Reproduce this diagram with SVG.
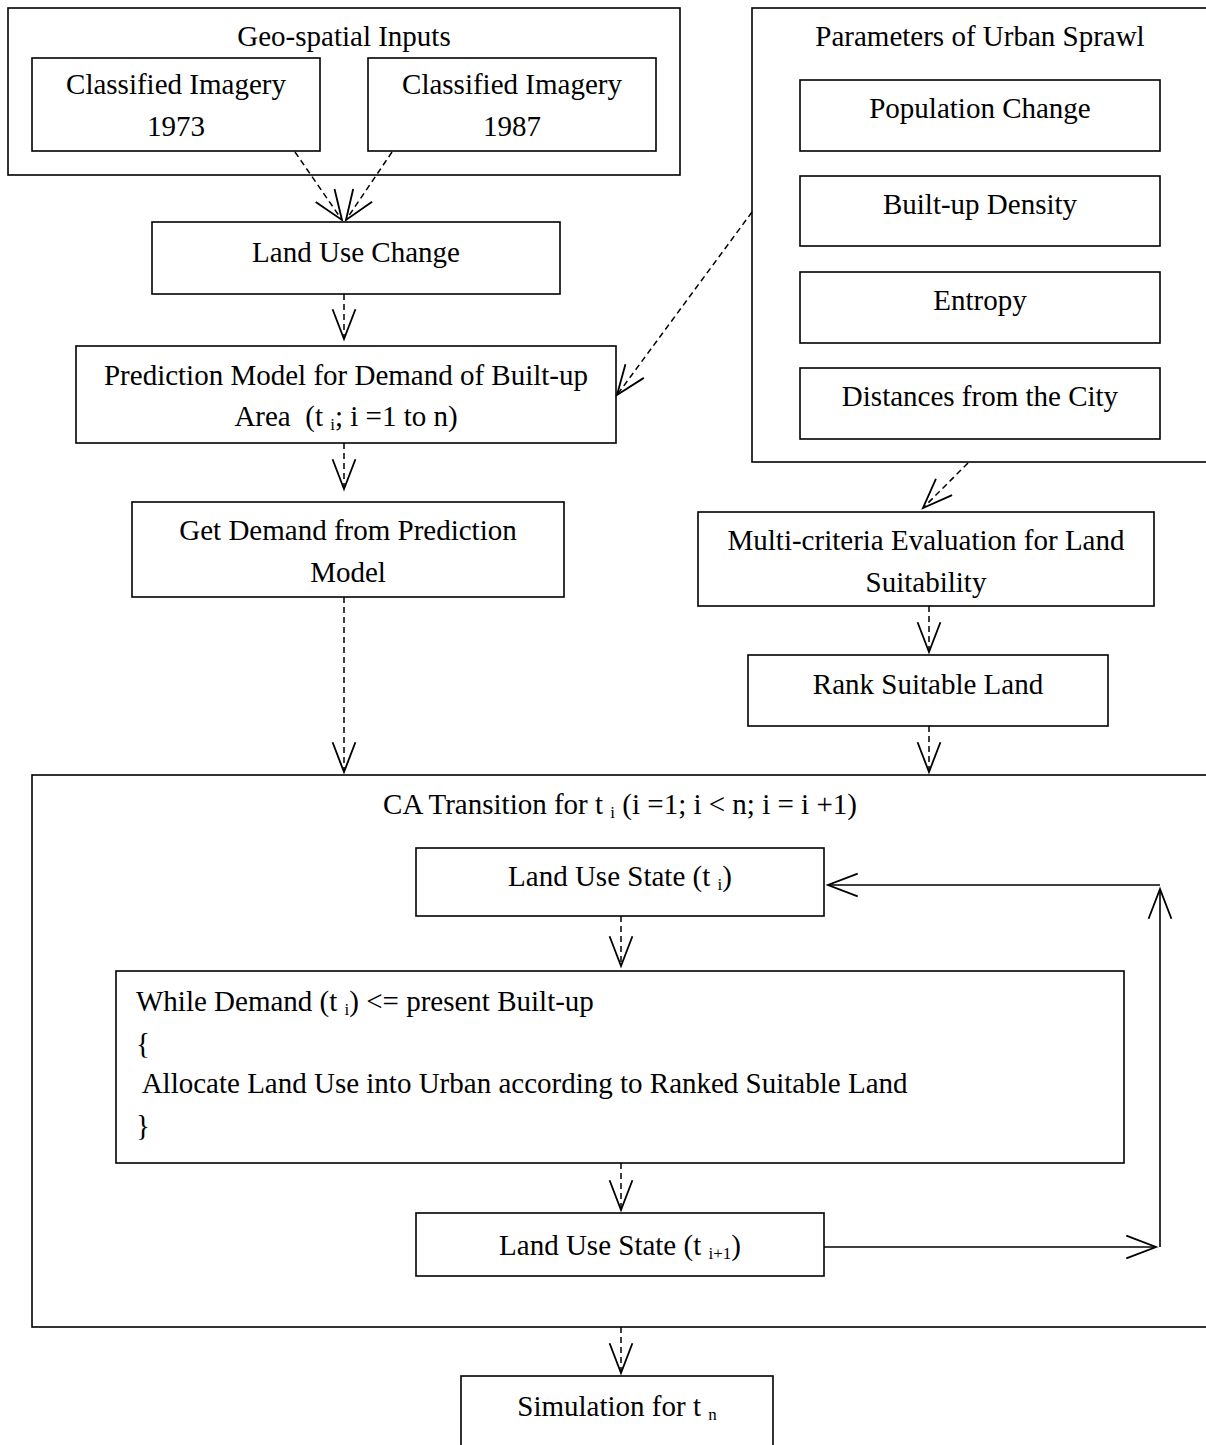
<svg xmlns="http://www.w3.org/2000/svg" width="1206" height="1445" viewBox="0 0 1206 1445">
<style>
.b{fill:none;stroke:#000;stroke-width:1.6}
.t{font-family:"Liberation Serif","Times New Roman",serif;font-size:29px;fill:#000;text-anchor:middle;white-space:pre}
.l{text-anchor:start}
.s{font-size:17px}
.d{fill:none;stroke:#000;stroke-width:1.5;stroke-dasharray:6 4;marker-end:url(#v)}
.c{fill:none;stroke:#000;stroke-width:1.6;marker-end:url(#v)}
</style>
<defs>
<marker id="v" markerUnits="userSpaceOnUse" markerWidth="40" markerHeight="40" viewBox="-30 -15 35 30" refX="0" refY="0" orient="auto" overflow="visible">
<path d="M-26,-10 L0,0 L-26,10" fill="none" stroke="#000" stroke-width="1.6"/>
</marker>
</defs>
<rect width="1206" height="1445" fill="#fff"/>
<g id="geo">
<rect class="b" x="8" y="8" width="672" height="167"/>
<text class="t" x="344" y="46">Geo-spatial Inputs</text>
</g>
<g id="img1973">
<rect class="b" x="32" y="58" width="288" height="93"/>
<text class="t" x="176" y="94">Classified Imagery</text>
<text class="t" x="176" y="136">1973</text>
</g>
<g id="img1987">
<rect class="b" x="368" y="58" width="288" height="93"/>
<text class="t" x="512" y="94">Classified Imagery</text>
<text class="t" x="512" y="136">1987</text>
</g>
<g id="params">
<rect class="b" x="752" y="8" width="480" height="454"/>
<text class="t" x="980" y="46">Parameters of Urban Sprawl</text>
</g>
<g id="pop">
<rect class="b" x="800" y="80" width="360" height="71"/>
<text class="t" x="980" y="118">Population Change</text>
</g>
<g id="density">
<rect class="b" x="800" y="176" width="360" height="70"/>
<text class="t" x="980" y="214">Built-up Density</text>
</g>
<g id="entropy">
<rect class="b" x="800" y="272" width="360" height="71"/>
<text class="t" x="980" y="310">Entropy</text>
</g>
<g id="distances">
<rect class="b" x="800" y="368" width="360" height="71"/>
<text class="t" x="980" y="406">Distances from the City</text>
</g>
<g id="luc">
<rect class="b" x="152" y="222" width="408" height="72"/>
<text class="t" x="356" y="262">Land Use Change</text>
</g>
<g id="pred">
<rect class="b" x="76" y="346" width="540" height="97"/>
<text class="t" x="346" y="385">Prediction Model for Demand of Built-up</text>
<text class="t" x="346" y="426">Area  (t <tspan class="s" dy="4">i</tspan><tspan dy="-4">; i =1 to n)</tspan></text>
</g>
<g id="demand">
<rect class="b" x="132" y="502" width="432" height="95"/>
<text class="t" x="348" y="540">Get Demand from Prediction</text>
<text class="t" x="348" y="582">Model</text>
</g>
<g id="mce">
<rect class="b" x="698" y="512" width="456" height="94"/>
<text class="t" x="926" y="550">Multi-criteria Evaluation for Land</text>
<text class="t" x="926" y="592">Suitability</text>
</g>
<g id="rank">
<rect class="b" x="748" y="655" width="360" height="71"/>
<text class="t" x="928" y="694">Rank Suitable Land</text>
</g>
<g id="ca">
<rect class="b" x="32" y="775" width="1200" height="552"/>
<text class="t" x="620" y="814">CA Transition for t <tspan class="s" dy="4">i</tspan><tspan dy="-4"> (i =1; i &lt; n; i = i +1)</tspan></text>
</g>
<g id="state1">
<rect class="b" x="416" y="848" width="408" height="68"/>
<text class="t" x="620" y="886">Land Use State (t <tspan class="s" dy="4">i</tspan><tspan dy="-4">)</tspan></text>
</g>
<g id="while">
<rect class="b" x="116" y="971" width="1008" height="192"/>
<text class="t l" x="136" y="1011">While Demand (t <tspan class="s" dy="4">i</tspan><tspan dy="-4">) &lt;= present Built-up</tspan></text>
<text class="t l" x="136" y="1053">{</text>
<text class="t l" x="136" y="1093"> Allocate Land Use into Urban according to Ranked Suitable Land</text>
<text class="t l" x="136" y="1135">}</text>
</g>
<g id="state2">
<rect class="b" x="416" y="1213" width="408" height="63"/>
<text class="t" x="620" y="1255">Land Use State (t <tspan class="s" dy="4">i+1</tspan><tspan dy="-4">)</tspan></text>
</g>
<g id="sim">
<rect class="b" x="461" y="1376" width="312" height="100"/>
<text class="t" x="617" y="1416">Simulation for t <tspan class="s" dy="4">n</tspan></text>
</g>
<g id="connectors">
<path class="d" d="M295,152 L342,220"/>
<path class="d" d="M392,152 L346,220"/>
<path class="d" d="M344,294 L344,339"/>
<path class="d" d="M344,443 L344,489"/>
<path class="d" d="M344,597 L344,772"/>
<path class="d" d="M752,212 L617,395"/>
<path class="d" d="M968,463 L923,508"/>
<path class="d" d="M929,606 L929,652"/>
<path class="d" d="M929,726 L929,772"/>
<path class="d" d="M621,916 L621,966"/>
<path class="d" d="M621,1163 L621,1210"/>
<path class="d" d="M621,1327 L621,1373"/>
<path class="c" d="M824,1247 L1156,1247"/>
<path class="c" d="M1160,1247 L1160,889"/>
<path class="c" d="M1160,885 L828,885"/>
</g>
</svg>
